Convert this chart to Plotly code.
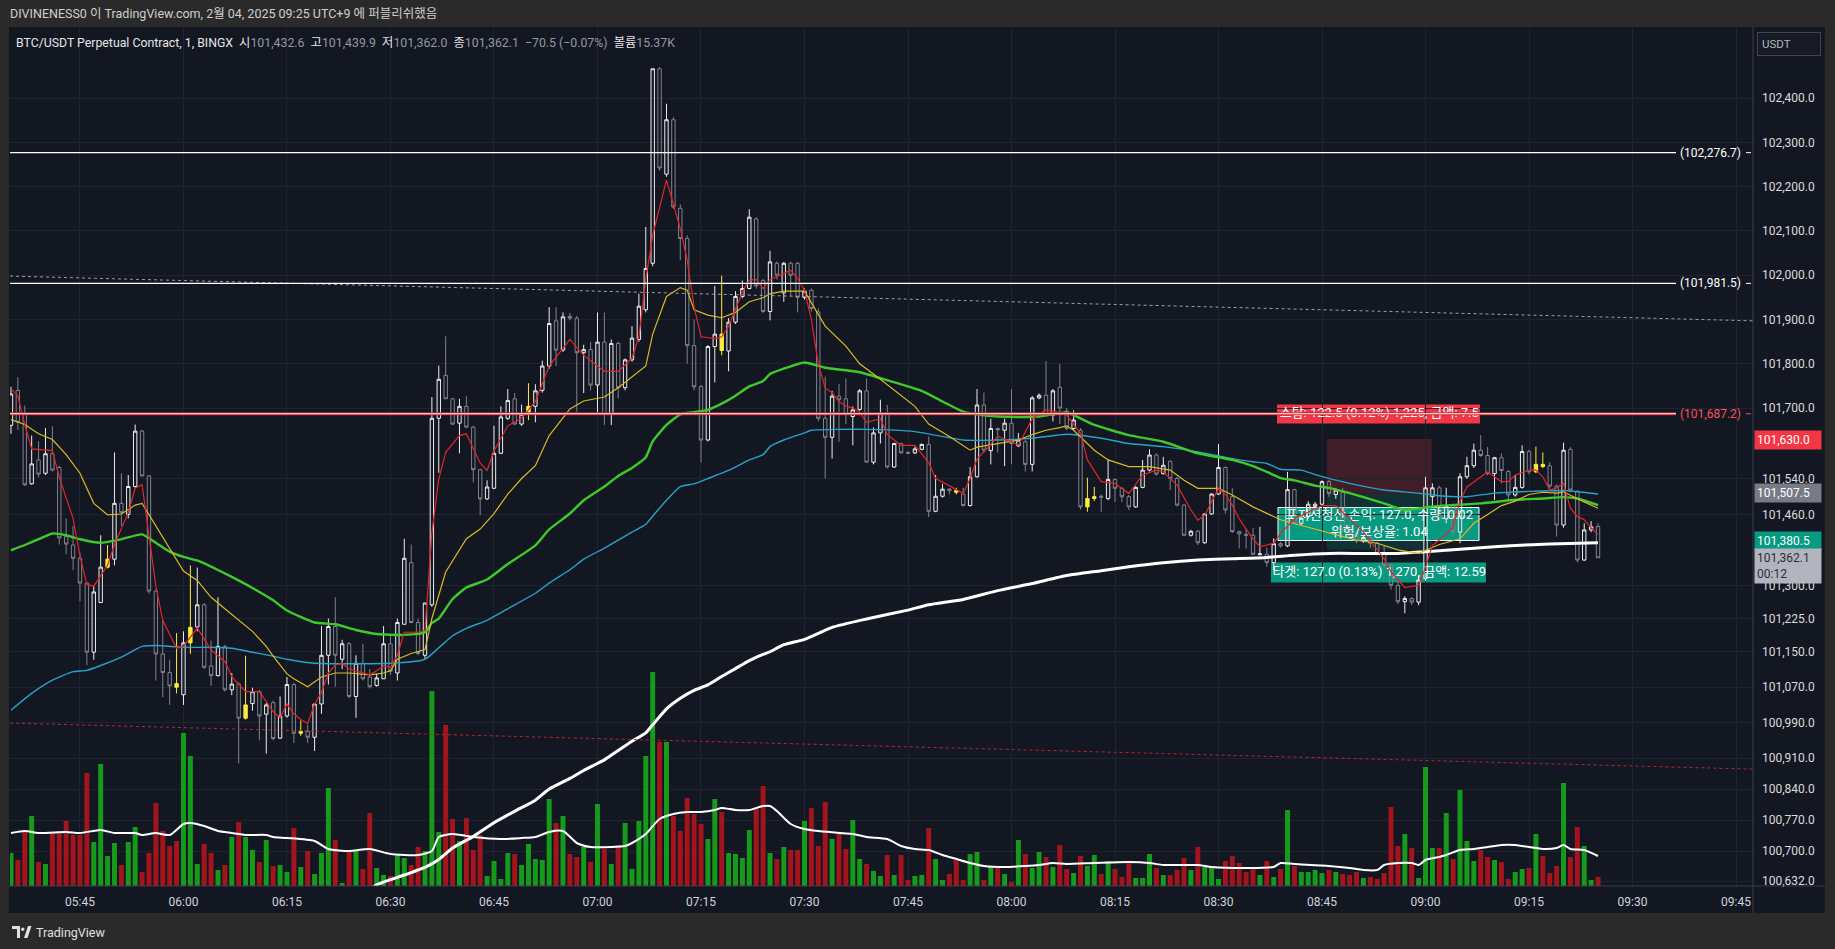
import pandas as pd
import plotly.graph_objects as go

# ---------------- DATA ----------------
times = pd.date_range("2025-02-04 05:35", periods=231, freq="min")

opens = [
    101661, 101740, 101689, 101529, 101583, 101553, 101597, 101566, 101410, 101391,
    101361, 101305, 101149, 101261, 101341, 101359, 101485, 101460, 101523, 101648,
    101547, 101287, 101145, 101103, 101078, 101053, 101170, 101206, 101256, 101118,
    101096, 101162, 101064, 101077, 101000, 101033, 101060, 101009, 101035, 100955,
    101005, 101076, 100966, 100970, 100957, 101032, 101142, 101207, 101133, 101168,
    101049, 101124, 101093, 101074, 101089, 101168, 101102, 101212, 101351, 101216,
    101142, 101256, 101677, 101774, 101721, 101666, 101704, 101657, 101561, 101495,
    101519, 101598, 101677, 101721, 101664, 101686, 101704, 101740, 101795, 101897,
    101831, 101907, 101903, 101825, 101832, 101752, 101849, 101686, 101846, 101746,
    101809, 101855, 101922, 102027, 102466, 102228, 102351, 102151, 102083, 101841,
    101749, 101628, 101839, 101867, 101829, 101894, 101952, 101970, 102127, 101988,
    101918, 102027, 101960, 102027, 102027, 101950, 101966, 101917, 101677, 101634,
    101727, 101721, 101681, 101697, 101739, 101578, 101644, 101688, 101567, 101620,
    101600, 101599, 101607, 101618, 101467, 101501, 101517, 101514, 101506, 101480,
    101545, 101707, 101604, 101654, 101650, 101666, 101615, 101624, 101573, 101723,
    101729, 101684, 101747, 101693, 101654, 101650, 101477, 101496, 101501, 101496,
    101539, 101519, 101500, 101477, 101521, 101560, 101594, 101552, 101580, 101541,
    101481, 101413, 101422, 101396, 101461, 101506, 101566, 101500, 101421, 101415,
    101413, 101369, 101370, 101351, 101394, 101389, 101516, 101440, 101455, 101478,
    101483, 101534, 101505, 101510, 101425, 101418, 101400, 101408, 101395, 101372,
    101345, 101300, 101263, 101270, 101262, 101315, 101500, 101520, 101450, 101480,
    101420, 101545, 101570, 101605, 101593, 101552, 101588, 101557, 101504, 101521,
    101602, 101556, 101573, 101570, 101524, 101436, 101607, 101512, 101357, 101425,
    101432.6]

highs = [
    101748, 101770, 101706, 101638, 101625, 101655, 101659, 101570, 101451, 101434,
    101374, 101307, 101298, 101413, 101391, 101600, 101553, 101549, 101663, 101651,
    101549, 101290, 101222, 101132, 101192, 101196, 101345, 101340, 101260, 101175,
    101273, 101166, 101102, 101081, 101141, 101069, 101064, 101034, 101040, 101049,
    101093, 101080, 100995, 100985, 101032, 101208, 101225, 101273, 101177, 101172,
    101142, 101168, 101111, 101100, 101208, 101185, 101225, 101405, 101392, 101225,
    101260, 101725, 101796, 101862, 101723, 101721, 101727, 101660, 101563, 101537,
    101660, 101704, 101743, 101734, 101708, 101756, 101754, 101807, 101928, 101928,
    101916, 101915, 101908, 101843, 101849, 101916, 101916, 101855, 101850, 101812,
    101885, 101958, 102109, 102466, 102470, 102387, 102357, 102160, 102090, 101900,
    101752, 101842, 101976, 101999, 101903, 101964, 101988, 102149, 102131, 101992,
    102055, 102031, 102030, 102031, 102030, 101970, 101970, 101925, 101771, 101739,
    101755, 101767, 101704, 101743, 101767, 101656, 101719, 101707, 101622, 101622,
    101603, 101613, 101620, 101636, 101549, 101529, 101520, 101520, 101520, 101567,
    101743, 101735, 101676, 101656, 101676, 101743, 101644, 101628, 101727, 101733,
    101806, 101743, 101799, 101700, 101695, 101655, 101543, 101522, 101505, 101584,
    101541, 101521, 101504, 101524, 101583, 101607, 101598, 101590, 101582, 101545,
    101483, 101425, 101425, 101463, 101508, 101619, 101568, 101520, 101423, 101428,
    101430, 101432, 101385, 101406, 101398, 101556, 101518, 101455, 101490, 101488,
    101537, 101538, 101520, 101520, 101440, 101422, 101412, 101412, 101398, 101390,
    101348, 101310, 101275, 101273, 101320, 101545, 101530, 101525, 101520, 101485,
    101553, 101590, 101620, 101639, 101612, 101590, 101598, 101560, 101549, 101616,
    101606, 101613, 101600, 101578, 101527, 101622, 101612, 101515, 101440, 101445,
    101439.9]

lows = [
    101642, 101651, 101524, 101527, 101544, 101549, 101557, 101392, 101370, 101334,
    101264, 101120, 101132, 101260, 101338, 101345, 101434, 101451, 101519, 101545,
    101281, 101085, 101047, 101030, 101056, 101030, 101145, 101196, 101111, 101073,
    101094, 101060, 101052, 100898, 100997, 101017, 100950, 100920, 100950, 100953,
    101001, 100944, 100960, 100944, 100926, 101010, 101076, 101071, 101111, 101045,
    101001, 101085, 101067, 101071, 101089, 101098, 101085, 101212, 101214, 101142,
    101133, 101251, 101554, 101721, 101662, 101598, 101655, 101532, 101458, 101493,
    101517, 101596, 101673, 101662, 101660, 101673, 101668, 101735, 101789, 101795,
    101827, 101898, 101692, 101734, 101740, 101686, 101662, 101662, 101722, 101740,
    101805, 101850, 101916, 102020, 102236, 102222, 102150, 102034, 101800, 101740,
    101577, 101625, 101758, 101819, 101783, 101890, 101948, 101968, 101970, 101915,
    101898, 101990, 101940, 101952, 101916, 101945, 101918, 101670, 101541, 101586,
    101624, 101664, 101616, 101694, 101577, 101573, 101620, 101564, 101565, 101597,
    101596, 101596, 101605, 101454, 101465, 101498, 101505, 101505, 101478, 101478,
    101543, 101600, 101573, 101600, 101569, 101573, 101612, 101557, 101557, 101720,
    101680, 101670, 101664, 101650, 101650, 101471, 101466, 101490, 101466, 101492,
    101488, 101488, 101470, 101475, 101519, 101557, 101548, 101550, 101515, 101478,
    101411, 101410, 101391, 101394, 101459, 101504, 101462, 101418, 101383, 101383,
    101368, 101368, 101342, 101334, 101385, 101386, 101438, 101436, 101450, 101470,
    101480, 101500, 101495, 101420, 101405, 101395, 101396, 101385, 101368, 101340,
    101290, 101258, 101237, 101255, 101255, 101310, 101480, 101445, 101440, 101410,
    101395, 101540, 101565, 101590, 101548, 101493, 101530, 101490, 101500, 101518,
    101550, 101553, 101565, 101518, 101410, 101430, 101510, 101352, 101355, 101420,
    101362.0]

closes = [
    101732, 101668, 101527, 101574, 101551, 101597, 101560, 101407, 101393, 101361,
    101305, 101149, 101285, 101341, 101359, 101485, 101464, 101523, 101648, 101547,
    101287, 101145, 101103, 101073, 101070, 101170, 101205, 101256, 101115, 101096,
    101162, 101064, 101077, 101000, 101030, 101060, 101005, 101030, 100954, 101005,
    101076, 100966, 100970, 100957, 101032, 101142, 101207, 101142, 101168, 101049,
    101124, 101089, 101071, 101091, 101168, 101106, 101216, 101361, 101216, 101146,
    101260, 101677, 101765, 101721, 101664, 101704, 101657, 101561, 101495, 101522,
    101598, 101680, 101717, 101664, 101686, 101704, 101739, 101795, 101891, 101831,
    101906, 101903, 101825, 101832, 101752, 101849, 101686, 101846, 101746, 101809,
    101858, 101930, 102015, 102466, 102242, 102351, 102154, 102083, 101841, 101748,
    101628, 101839, 101867, 101830, 101894, 101952, 101970, 102131, 101976, 101918,
    102030, 102000, 102027, 102000, 101950, 101964, 101925, 101677, 101634, 101727,
    101719, 101686, 101696, 101739, 101578, 101644, 101688, 101567, 101620, 101599,
    101598, 101608, 101618, 101467, 101501, 101517, 101514, 101510, 101480, 101545,
    101707, 101605, 101654, 101651, 101666, 101620, 101628, 101573, 101723, 101729,
    101684, 101739, 101700, 101654, 101673, 101477, 101496, 101500, 101499, 101539,
    101519, 101500, 101477, 101521, 101560, 101594, 101551, 101571, 101541, 101481,
    101413, 101422, 101396, 101461, 101506, 101566, 101470, 101421, 101416, 101413,
    101370, 101371, 101351, 101394, 101389, 101516, 101440, 101451, 101483, 101483,
    101534, 101507, 101515, 101425, 101418, 101400, 101408, 101395, 101372, 101345,
    101300, 101263, 101270, 101262, 101312, 101520, 101520, 101450, 101480, 101420,
    101545, 101570, 101605, 101593, 101552, 101588, 101559, 101504, 101521, 101602,
    101556, 101573, 101568, 101524, 101436, 101605, 101515, 101357, 101425, 101432,
    101362.1]

# bars painted yellow by the indicator
yellow_bars = [14, 24, 26, 34, 42, 75, 103, 137, 156, 157, 221, 222]

# volume, thousands
volumes = [
    56.1, 44.2, 95.2, 119, 40.8, 37.4, 91.8, 91.8, 110.5, 86.7,
    86.7, 192.1, 74.8, 207.4, 51, 73.1, 35.7, 74.8, 100.3, 23.8,
    56.1, 141.1, 93.5, 68, 76.5, 260.1, 221, 37.4, 71.4, 56.1,
    27.2, 35.7, 83.3, 108.8, 83.3, 61.2, 40.8, 78.2, 34, 35.7,
    23.8, 98.6, 32.3, 59.5, 20.4, 56.1, 166.6, 78.2, 5.1, 57.8,
    59.5, 28.9, 124.1, 30.6, 18.7, 17, 54.4, 47.6, 35.7, 66.3,
    59.5, 331.5, 91.8, 273.7, 113.9, 76.5, 115.6, 61.2, 86.7, 17,
    42.5, 11.9, 56.1, 54.4, 35.7, 71.4, 45.9, 44.2, 147.9, 107.1,
    119, 54.4, 49.3, 66.3, 40.8, 139.4, 62.9, 37.4, 69.7, 107.1,
    28.9, 110.5, 221, 363.8, 244.8, 244.8, 119, 93.5, 149.6, 122.4,
    105.4, 79.9, 147.9, 125.8, 56.1, 54.4, 47.6, 95.2, 132.6, 170,
    56.1, 45.9, 66.3, 61.2, 61.2, 110.5, 132.6, 68, 142.8, 79.9,
    88.4, 62.9, 112.2, 45.9, 37.4, 25.5, 17, 52.7, 18.7, 52.7,
    10.2, 17, 18.7, 98.6, 45.9, 10.2, 20.4, 44.2, 10.2, 54.4,
    57.8, 10.2, 34, 30.6, 20.4, 6.8, 78.2, 54.4, 30.6, 57.8,
    49.3, 32.3, 69.7, 28.9, 22.1, 51, 34, 52.7, 20.4, 42.5,
    28.9, 15.3, 40.8, 13.6, 13.6, 54.4, 30.6, 18.7, 18.7, 27.2,
    47.6, 27.2, 66.3, 32.3, 32.3, 11.9, 42.5, 51, 39.1, 23.8,
    30.6, 18.7, 42.5, 15.3, 28.9, 129.2, 34, 23.8, 23.8, 27.2,
    22.1, 27.2, 23.8, 20.4, 18.7, 23.8, 13.6, 15.3, 11.9, 22.1,
    134.3, 68, 88.4, 64.6, 13.6, 202.3, 64.6, 64.6, 124.1, 45.9,
    163.2, 76.5, 42.5, 61.2, 49.3, 44.2, 40.8, 11.9, 23.8, 28.9,
    30.6, 88.4, 51, 22.1, 34, 175.1, 49.3, 100.3, 68, 10.2,
    15.37]

# moving averages, read at the bars listed in *_idx
ma_red_idx = [0, 1, 2, 3, 6, 7, 9, 10, 11, 12, 14, 15, 17, 18, 19, 20, 21, 22, 24, 25,
              27, 29, 31, 32, 34, 36, 38, 39, 40, 41, 42, 43, 44, 45, 46, 47, 48, 49, 50, 52,
              53, 54, 55, 56, 57, 59, 60, 61, 62, 63, 65, 66, 68, 69, 70, 72, 74, 76, 78, 81,
              83, 86, 88, 90, 91, 92, 93, 94, 95, 96, 97, 98, 99, 100, 102, 103, 104, 106, 107, 108,
              109, 110, 112, 113, 114, 115, 116, 117, 118, 119, 120, 121, 122, 123, 124, 126, 127, 129, 131, 133,
              134, 136, 138, 139, 140, 141, 143, 145, 146, 148, 150, 152, 153, 155, 156, 158, 160, 162, 164, 166,
              167, 169, 171, 172, 173, 175, 176, 177, 178, 180, 181, 183, 184, 186, 188, 190, 192, 194, 196, 197,
              199, 200, 202, 204, 205, 206, 208, 209, 210, 211, 213, 214, 216, 217, 218, 220, 221, 222, 223, 224,
              225, 226, 227, 228, 229, 230]
ma_red_val = [101744, 101727, 101663, 101608, 101604, 101544, 101451, 101366, 101302, 101298,
              101345, 101392, 101464, 101519, 101527, 101417, 101298, 101221, 101158, 101162,
              101204, 101154, 101128, 101094, 101060, 101060, 101015, 101001, 101032, 101010,
              100997, 100988, 101032, 101058, 101102, 101120, 101124, 101111, 101107, 101098,
              101107, 101118, 101115, 101142, 101194, 101194, 101199, 101418, 101540, 101600,
              101638, 101642, 101576, 101559, 101603, 101660, 101677, 101715, 101795, 101855,
              101819, 101783, 101783, 101813, 101861, 101990, 102090, 102150, 102215, 102160,
              102105, 102034, 101929, 101861, 101857, 101861, 101884, 101962, 101989, 101990,
              101970, 101990, 102004, 102011, 101993, 101966, 101900, 101800, 101745, 101735,
              101715, 101705, 101700, 101690, 101668, 101676, 101640, 101616, 101616, 101577,
              101541, 101525, 101507, 101541, 101585, 101601, 101636, 101624, 101616, 101676,
              101696, 101690, 101684, 101643, 101583, 101534, 101530, 101507, 101549, 101560,
              101556, 101526, 101470, 101447, 101458, 101519, 101505, 101481, 101450, 101405,
              101387, 101395, 101417, 101450, 101465, 101480, 101480, 101450, 101420, 101400,
              101360, 101330, 101295, 101300, 101340, 101390, 101415, 101432, 101490, 101522,
              101545, 101556, 101534, 101534, 101549, 101560, 101560, 101545, 101515, 101520,
              101530, 101474, 101455, 101448, 101430, 101415]

ma_yellow_idx = [0, 2, 4, 6, 8, 10, 12, 14, 16, 18, 19, 21, 23, 25, 27, 29, 31, 33, 35, 37,
                 38, 40, 41, 43, 45, 47, 49, 52, 54, 55, 56, 58, 60, 61, 63, 66, 68, 70, 72, 74,
                 76, 78, 81, 83, 86, 88, 90, 92, 93, 95, 97, 98, 99, 101, 103, 105, 107, 109, 110, 112,
                 115, 118, 121, 123, 126, 128, 131, 133, 136, 139, 140, 143, 146, 148, 150, 152, 153, 154, 157, 159,
                 162, 165, 168, 170, 172, 175, 177, 180, 183, 184, 187, 191, 195, 198, 201, 204, 207, 210, 212, 214,
                 216, 218, 220, 222, 224, 225, 227, 228, 230]
ma_yellow_val = [101674, 101663, 101642, 101629, 101595, 101553, 101485, 101459, 101461, 101481,
                 101485, 101434, 101383, 101332, 101311, 101273, 101247, 101221, 101196, 101162,
                 101140, 101100, 101089, 101071, 101093, 101102, 101102, 101098, 101102, 101107,
                 101133, 101146, 101155, 101225, 101330, 101405, 101427, 101462, 101506, 101541,
                 101570, 101638, 101698, 101716, 101725, 101746, 101771, 101795, 101867, 101952,
                 101972, 101966, 101922, 101910, 101904, 101916, 101940, 101949, 101958, 101964,
                 101964, 101885, 101840, 101800, 101765, 101740, 101704, 101664, 101636, 101605,
                 101612, 101620, 101628, 101640, 101650, 101656, 101660, 101650, 101605, 101583,
                 101568, 101568, 101560, 101537, 101519, 101519, 101504, 101477, 101455, 101448,
                 101435, 101418, 101402, 101395, 101380, 101372, 101392, 101405, 101440, 101460,
                 101480, 101490, 101505, 101510, 101508, 101511, 101495, 101488, 101474]

ma_green_idx = [0, 2, 4, 6, 8, 10, 13, 16, 19, 21, 23, 25, 27, 29, 32, 35, 38, 40, 44, 47,
                50, 53, 57, 60, 61, 62, 64, 66, 69, 72, 76, 78, 81, 83, 86, 88, 90, 92, 93, 95,
                97, 99, 101, 103, 105, 107, 109, 110, 112, 115, 118, 123, 127, 132, 135, 138, 141, 146, 149, 153,
                157, 162, 167, 172, 177, 180, 182, 184, 186, 189, 191, 194, 199, 202, 206, 209, 213, 218, 222, 225,
                227, 230]
ma_green_val = [101379, 101391, 101404, 101417, 101413, 101404, 101396, 101404, 101415, 101396,
                101376, 101364, 101356, 101342, 101319, 101294, 101266, 101243, 101216, 101212,
                101199, 101190, 101188, 101194, 101215, 101225, 101269, 101295, 101313, 101348,
                101390, 101426, 101462, 101492, 101523, 101547, 101565, 101589, 101625, 101662,
                101686, 101691, 101696, 101710, 101728, 101749, 101761, 101777, 101789, 101803,
                101791, 101781, 101763, 101739, 101715, 101692, 101684, 101680, 101681, 101690,
                101662, 101639, 101624, 101598, 101583, 101569, 101556, 101542, 101537, 101525,
                101520, 101508, 101485, 101470, 101478, 101481, 101485, 101493, 101496, 101499,
                101496, 101481]

ma_cyan_idx = [0, 3, 6, 9, 11, 13, 16, 19, 21, 25, 29, 32, 35, 38, 40, 44, 55, 60, 62, 64,
               66, 69, 72, 76, 78, 81, 83, 86, 88, 90, 92, 93, 95, 97, 99, 101, 103, 105, 107, 109,
               110, 112, 115, 116, 124, 131, 138, 143, 148, 153, 158, 162, 167, 172, 177, 180, 182, 184, 187, 189,
               194, 199, 204, 207, 211, 215, 220, 225, 230]
ma_cyan_val = [101018, 101056, 101086, 101105, 101108, 101119, 101138, 101162, 101164, 101160,
               101160, 101158, 101149, 101140, 101133, 101124, 101124, 101133, 101159, 101186,
               101203, 101221, 101247, 101282, 101305, 101335, 101359, 101384, 101402, 101420,
               101438, 101456, 101492, 101523, 101529, 101541, 101553, 101567, 101583, 101595,
               101613, 101628, 101644, 101650, 101652, 101647, 101628, 101628, 101632, 101641,
               101632, 101620, 101613, 101601, 101586, 101579, 101575, 101562, 101560, 101550,
               101530, 101515, 101508, 101502, 101500, 101508, 101512, 101514, 101506]

ma_white_idx = [50, 53, 57, 60, 62, 64, 67, 70, 73, 76, 78, 81, 83, 86, 88, 90, 92, 93, 95, 97,
                99, 101, 103, 105, 107, 109, 110, 112, 115, 119, 124, 130, 133, 138, 143, 148, 153, 158, 162, 167,
                172, 177, 182, 186, 191, 196, 201, 205, 209, 213, 218, 223, 230]
ma_white_val = [100590, 100624, 100646, 100663, 100681, 100707, 100733, 100764, 100790, 100815,
                100840, 100864, 100882, 100906, 100927, 100948, 100967, 100985, 101021, 101045,
                101063, 101075, 101094, 101112, 101130, 101144, 101150, 101166, 101178, 101205,
                101224, 101244, 101256, 101268, 101288, 101304, 101322, 101333, 101342, 101351,
                101357, 101360, 101363, 101368, 101372, 101372, 101372, 101376, 101380, 101385,
                101390, 101393, 101396]

vol_ma_idx = [0, 2, 4, 8, 10, 13, 15, 18, 19, 21, 23, 25, 26, 28, 30, 32, 34, 37, 38, 40,
              44, 46, 49, 52, 55, 59, 61, 62, 64, 67, 71, 74, 76, 78, 80, 82, 84, 87, 89, 90,
              92, 94, 96, 98, 100, 102, 103, 105, 107, 109, 110, 111, 113, 115, 117, 122, 124, 127, 129, 131,
              133, 135, 137, 139, 141, 144, 147, 149, 151, 153, 157, 162, 165, 167, 172, 174, 179, 183, 184, 186,
              191, 194, 196, 198, 199, 201, 203, 204, 205, 207, 208, 210, 212, 214, 216, 218, 220, 222, 224, 225,
              226, 228, 230]
vol_ma_val = [90.1, 93.5, 90.1, 91.8, 90.1, 95.2, 90.1, 90.1, 86.7, 90.1,
              86.7, 105.4, 107.1, 102, 93.5, 90.1, 86.7, 86.7, 83.3, 81.6,
              76.5, 62.9, 59.5, 62.9, 54.4, 52.7, 59.5, 83.3, 88.4, 83.3,
              79.9, 81.6, 83.3, 91.8, 93.5, 73.1, 66.3, 66.3, 68, 73.1,
              88.4, 113.9, 122.4, 125.8, 125.8, 129.2, 132.6, 129.2, 129.2, 136,
              136, 127.5, 105.4, 96.9, 93.5, 88.4, 83.3, 79.9, 68, 62.9,
              61.2, 52.7, 45.9, 39.1, 34, 32.3, 34, 35.7, 39.1, 37.4,
              39.1, 40.8, 39.1, 35.7, 35.7, 32.3, 30.6, 32.3, 39.1, 37.4,
              34, 30.6, 27.2, 27.2, 35.7, 39.1, 39.1, 35.7, 44.2, 49.3,
              52.7, 61.2, 62.9, 66.3, 69.7, 69.7, 66.3, 62.9, 64.6, 69.7,
              62.9, 61.2, 51]

# horizontal levels and trend lines
level_prices = [102276.7, 101981.5]
stop_level = 101687.2
level_end = "2025-02-04 09:36:18"
trend_grey = [101998, 101897]
trend_red = [100989, 100885]

# short position tool
pos_entry, pos_stop, pos_target = 101507.5, 101630.0, 101380.5
pos_start, pos_end = "2025-02-04 08:45:42", "2025-02-04 09:00:54"
pos_stop_text = "스탑: 122.5 (0.12%) 1,225, 금액: 7.5"
pos_mid_text = "포지션청산 손익: 127.0, 수량: 0.02<br>위험/보상율: 1.04"
pos_target_text = "타겟: 127.0 (0.13%) 1,270, 금액: 12.59"

price_ticks = [102400, 102300, 102200, 102100, 102000, 101900, 101800, 101700, 101540, 101460,
               101300, 101225, 101150, 101070, 100990, 100910, 100840, 100770, 100700, 100632]

title_text = "DIVINENESS0 이 TradingView.com, 2월 04, 2025 09:25 UTC+9 에 퍼블리쉬했음"
symbol_text = "BTC/USDT Perpetual Contract, 1, BINGX"
countdown = "00:12"

# ---------------- STYLE / LAYOUT ----------------
W, H = 1835, 949
PL, PR, PT, PB = 10, 1753, 27, 886
FONT = "Roboto, 'Noto Sans CJK KR', 'Noto Sans', sans-serif"
BG = "#131722"
FRAME = "#2a2a2a"
GRID = "#1f2330"
SEP = "#3a3e4a"
TXT = "#d1d4dc"
UP, DN, YEL = "#eeeeee", "#80838d", "#ffeb3b"
VUP, VDN = "#169a1b", "#a3141c"

y_top, y_bot = 102560.3, 100621.2
x_start = pd.Timestamp("2025-02-04 05:34:51.6")
x_end = pd.Timestamp("2025-02-04 09:47:27.6")
vol_top = 1460.3


def pxx(x):
    return (x - PL) / (PR - PL)


def pxy(y):
    return (PB - y) / (PB - PT)


def pix_price(y):
    return y_top - (y - PT) / (PB - PT) * (y_top - y_bot)


N = len(times)
fig = go.Figure()

# volume (base axis, drawn first)
vcolors = [VUP if closes[i] >= opens[i] else VDN for i in range(N)]
fig.add_trace(go.Bar(x=times, y=volumes, marker=dict(color=vcolors, line=dict(width=0)),
                     yaxis="y", hoverinfo="skip"))
fig.add_trace(go.Scatter(x=[times[i] for i in vol_ma_idx], y=vol_ma_val, mode="lines",
                         line=dict(color="#ffffff", width=2, shape="spline", smoothing=0.6),
                         yaxis="y", hoverinfo="skip"))

# position-tool label texts (below the candles, like the drawing in the reference)
cx = pd.Timestamp(pos_start) + (pd.Timestamp(pos_end) - pd.Timestamp(pos_start)) / 2
for txt, ypix in [(pos_stop_text, 414), (pos_mid_text, 524), (pos_target_text, 572.5)]:
    fig.add_trace(go.Scatter(x=[cx], y=[pix_price(ypix)], mode="text", text=[txt],
                             textposition="middle center", yaxis="y2", hoverinfo="skip",
                             textfont=dict(family=FONT, size=13, color="#ffffff")))

# candles
norm = [i for i in range(N) if i not in yellow_bars]
fig.add_trace(go.Candlestick(
    x=[times[i] for i in norm], open=[opens[i] for i in norm], high=[highs[i] for i in norm],
    low=[lows[i] for i in norm], close=[closes[i] for i in norm], yaxis="y2",
    increasing=dict(line=dict(color=UP, width=1), fillcolor="rgba(0,0,0,0)"),
    decreasing=dict(line=dict(color=DN, width=1), fillcolor="rgba(0,0,0,0)"),
    whiskerwidth=0, hoverinfo="skip"))
fig.add_trace(go.Candlestick(
    x=[times[i] for i in yellow_bars], open=[opens[i] for i in yellow_bars],
    high=[highs[i] for i in yellow_bars], low=[lows[i] for i in yellow_bars],
    close=[closes[i] for i in yellow_bars], yaxis="y2",
    increasing=dict(line=dict(color=YEL, width=1), fillcolor=YEL),
    decreasing=dict(line=dict(color=YEL, width=1), fillcolor=YEL),
    whiskerwidth=0, hoverinfo="skip"))


def ma(idx, val, color, width, smooth=True):
    fig.add_trace(go.Scatter(
        x=[times[i] for i in idx], y=val, mode="lines", yaxis="y2", hoverinfo="skip",
        line=dict(color=color, width=width, shape="spline" if smooth else "linear",
                  smoothing=0.5 if smooth else None)))


ma(ma_white_idx, ma_white_val, "#ffffff", 3)
ma(ma_cyan_idx, ma_cyan_val, "#26a3c8", 1.4)
ma(ma_green_idx, ma_green_val, "#3fca2c", 2.4)
ma(ma_yellow_idx, ma_yellow_val, "#d9bb22", 1.2, smooth=False)
ma(ma_red_idx, ma_red_val, "#e5232b", 1.2, smooth=False)

shapes = []
# chart background + separators
shapes.append(dict(type="rect", xref="paper", yref="paper", x0=pxx(9), x1=pxx(1825),
                   y0=pxy(913), y1=pxy(27), fillcolor=BG, line=dict(width=0), layer="below"))
shapes.append(dict(type="line", xref="paper", yref="paper", x0=1, x1=1, y0=pxy(913), y1=pxy(27),
                   line=dict(color=SEP, width=1)))
shapes.append(dict(type="line", xref="paper", yref="paper", x0=pxx(9), x1=pxx(1825), y0=0, y1=0,
                   line=dict(color=SEP, width=1)))
# position zones + label boxes (under the candles)
shapes.append(dict(type="rect", xref="x", yref="y2", x0=pos_start, x1=pos_end, y0=pos_entry,
                   y1=pos_stop, fillcolor="rgba(242,54,69,0.2)", line=dict(width=0), layer="below"))
shapes.append(dict(type="rect", xref="x", yref="y2", x0=pos_start, x1=pos_end, y0=pos_target,
                   y1=pos_entry, fillcolor="rgba(8,153,129,0.2)", line=dict(width=0), layer="below"))
shapes.append(dict(type="rect", xref="paper", yref="paper", x0=pxx(1277), x1=pxx(1480),
                   y0=pxy(423.5), y1=pxy(404.5), fillcolor="#f23645", line=dict(width=0), layer="below"))
shapes.append(dict(type="rect", xref="paper", yref="paper", x0=pxx(1278), x1=pxx(1479),
                   y0=pxy(540.5), y1=pxy(507.5), fillcolor="#089981",
                   line=dict(color="#ffffff", width=1), layer="below"))
shapes.append(dict(type="rect", xref="paper", yref="paper", x0=pxx(1271), x1=pxx(1486),
                   y0=pxy(582.5), y1=pxy(562.5), fillcolor="#089981", line=dict(width=0), layer="below"))
# trend lines
shapes.append(dict(type="line", xref="x", yref="y2", x0=x_start, x1=x_end, y0=trend_grey[0],
                   y1=trend_grey[1], line=dict(color="#9aa0ab", width=1, dash="dot")))
shapes.append(dict(type="line", xref="x", yref="y2", x0=x_start, x1=x_end, y0=trend_red[0],
                   y1=trend_red[1], line=dict(color="#b3262c", width=1, dash="dot")))
# horizontal levels
for p in level_prices:
    shapes.append(dict(type="line", xref="x", yref="y2", x0=x_start, x1=level_end, y0=p, y1=p,
                       line=dict(color="#ffffff", width=1.3)))
shapes.append(dict(type="line", xref="x", yref="y2", x0=x_start, x1=level_end, y0=stop_level,
                   y1=stop_level, line=dict(color="#c8202a", width=3)))
shapes.append(dict(type="line", xref="x", yref="y2", x0=x_start, x1=level_end, y0=stop_level,
                   y1=stop_level, line=dict(color="#ffffff", width=1)))
for p, c in [(level_prices[0], "#ffffff"), (level_prices[1], "#ffffff"), (stop_level, "#f7525f")]:
    shapes.append(dict(type="line", xref="paper", yref="y2", x0=pxx(1746), x1=pxx(1751), y0=p, y1=p,
                       line=dict(color=c, width=1)))
# footer logo mark
lx = [12, 20, 20, 17, 17, 12]
ly = [926, 926, 938, 938, 929, 929]
path = "M" + " L".join(f"{pxx(a):.6f},{pxy(b):.6f}" for a, b in zip(lx, ly)) + " Z"
shapes.append(dict(type="path", xref="paper", yref="paper", path=path, fillcolor="#e0e0e0",
                   line=dict(width=0)))
shapes.append(dict(type="circle", xref="paper", yref="paper", x0=pxx(21), x1=pxx(24.5),
                   y0=pxy(931), y1=pxy(927.5), fillcolor="#e0e0e0", line=dict(width=0)))
px2 = [(24, 938), (28, 926), (31.5, 926), (27.5, 938)]
path2 = "M" + " L".join(f"{pxx(a):.6f},{pxy(b):.6f}" for a, b in px2) + " Z"
shapes.append(dict(type="path", xref="paper", yref="paper", path=path2, fillcolor="#e0e0e0",
                   line=dict(width=0)))

ann = []


def note(text, x, y, size=12, color=TXT, xanchor="left", yanchor="middle", **kw):
    d = dict(text=text, x=x, y=y, xref=kw.pop("xref", "paper"), yref=kw.pop("yref", "paper"),
             showarrow=False, xanchor=xanchor, yanchor=yanchor,
             font=dict(family=FONT, size=size, color=color))
    d.update(kw)
    ann.append(d)


note(title_text, pxx(8), pxy(14), size=12.5, color="#cfcfcf")
G = "#9598a1"
chg = closes[-1] - opens[-1]
legend = (f"{symbol_text}\u00a0\u00a0"
          f"시<span style='color:{G}'>{opens[-1]:,.1f}</span>\u00a0\u00a0"
          f"고<span style='color:{G}'>{highs[-1]:,.1f}</span>\u00a0\u00a0"
          f"저<span style='color:{G}'>{lows[-1]:,.1f}</span>\u00a0\u00a0"
          f"종<span style='color:{G}'>{closes[-1]:,.1f}</span>\u00a0\u00a0"
          f"<span style='color:{G}'>\u2212{abs(chg):.1f} (\u2212{abs(chg) / opens[-1] * 100:.2f}%)</span>\u00a0\u00a0"
          f"볼륨<span style='color:{G}'>{volumes[-1]:.2f}K</span>")
note(legend, pxx(14), pxy(43), size=12.3, color="#e6e6e6")

# USDT box
note("USDT", pxx(1757), pxy(44), size=11.5, color="#b2b5be", bgcolor="#161a25",
     bordercolor="#434651", borderwidth=1, borderpad=4, width=54, align="left")

# price axis tags
tag_w = 62
note(f"{pos_stop:,.1f}", pxx(1754), pxy(439.5), color="#ffffff", bgcolor="#f23645",
     borderpad=2, width=tag_w, align="left")
note(f"{pos_entry:,.1f}", pxx(1754), pxy(493.5), color="#ffffff", bgcolor="#787b86",
     borderpad=2, width=tag_w, align="left")
note(f"{pos_target:,.1f}", pxx(1754), pxy(541), color="#ffffff", bgcolor="#089981",
     borderpad=2, width=tag_w, align="left")
note(f"{closes[-1]:,.1f}<br>{countdown}", pxx(1754), pxy(565.5), color="#2a2e39",
     bgcolor="#b2b5be", borderpad=2, width=tag_w, align="left")

# level labels
for p in level_prices:
    note(f"({p:,.1f})", pxx(1743), p, yref="y2", xanchor="right", color="#ffffff")
note(f"({stop_level:,.1f})", pxx(1743), stop_level, yref="y2", xanchor="right", color="#f7525f")

# footer
note("TradingView", pxx(34), pxy(932), size=12.5, color="#e0e0e0")

fig.update_layout(
    width=W, height=H,
    margin=dict(l=PL, r=W - PR, t=PT, b=H - PB, pad=0),
    paper_bgcolor=FRAME, plot_bgcolor=BG,
    showlegend=False, bargap=0.28, boxgap=0.3,
    font=dict(family=FONT, color=TXT),
    shapes=shapes, annotations=ann,
    xaxis=dict(type="date", range=[x_start, x_end], tickformat="%H:%M", dtick=15 * 60 * 1000,
               tick0="2025-02-04 05:45", showgrid=True, gridcolor=GRID, gridwidth=1,
               zeroline=False, showline=False, ticks="", ticklabelstandoff=7,
               tickfont=dict(size=12, color=TXT),
               rangeslider=dict(visible=False), fixedrange=True),
    yaxis=dict(range=[0, vol_top], visible=False, showgrid=False, fixedrange=True),
    yaxis2=dict(range=[y_bot, y_top], overlaying="y", side="right", tickvals=price_ticks,
                ticktext=[f"{v:,.1f}" for v in price_ticks], showgrid=True, gridcolor=GRID,
                gridwidth=1, zeroline=False, showline=False, ticks="", ticklabelstandoff=8,
                tickfont=dict(size=12, color="#dcdcdc"), fixedrange=True),
)

fig.write_html("out.html")
